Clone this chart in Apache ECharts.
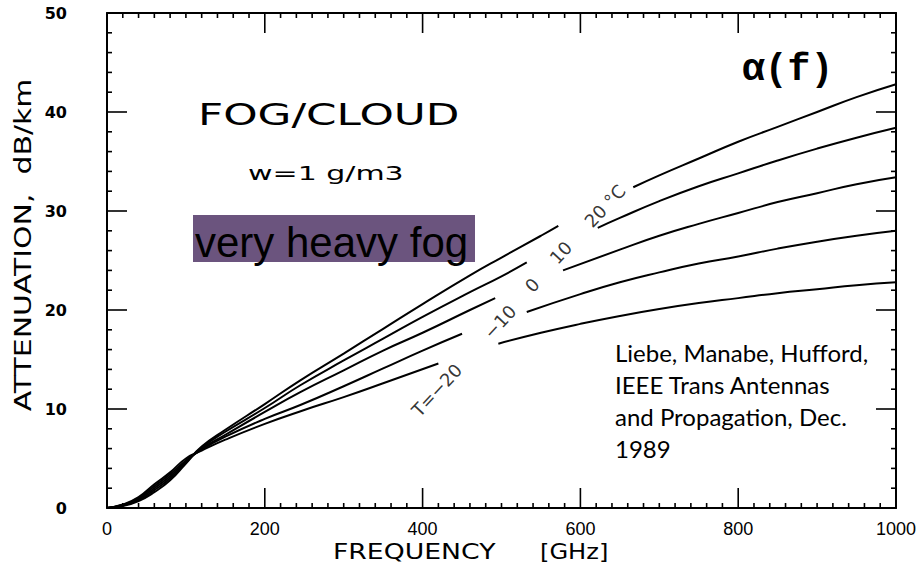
<!DOCTYPE html>
<html>
<head>
<meta charset="utf-8">
<script src="https://cdn.jsdelivr.net/npm/echarts@6/dist/echarts.min.js"></script>
<style>
  html, body { margin: 0; padding: 0; background: #fff; }
  #chart { width: 922px; height: 568px; }
</style>
</head>
<body>
<div id="chart"></div>
<script>
// Axis ticks: frequency in GHz, attenuation in dB/km
const freqTicks = [0, 200, 400, 600, 800, 1000];
const attTicks = [0, 10, 20, 30, 40, 50];

// Fog/cloud attenuation alpha(f), liquid water w = 1 g/m3.
// [frequency GHz, attenuation dB/km]; null leaves the gap where the curve's temperature is written.
const curveT20 = [[0,0],[20,0.2],[40,0.7],[60,1.6],[80,2.8],[100,4.5],[120,6.2],[150,7.9],[200,10.5],[245,12.9],[300,15.6],[350,18.1],[400,20.6],[460,23.5],[500,25.3],[550,27.5],[572,28.5],
  null,[667,32.4],[700,33.6],[750,35.3],[800,37.0],[850,38.5],[900,40.0],[950,41.5],[1000,42.8]];
const curveT10 = [[0,0],[20,0.25],[40,0.8],[60,1.8],[80,3.0],[100,4.6],[120,6.1],[150,7.7],[200,10.1],[245,12.4],[300,14.9],[350,17.1],[400,19.3],[460,21.8],[500,23.4],[532,24.8],
  null,[622,28.3],[650,29.3],[700,31.0],[750,32.5],[800,33.8],[850,35.1],[900,36.3],[950,37.4],[1000,38.4]];
const curveT0 = [[0,0],[20,0.3],[40,0.9],[60,2.0],[80,3.2],[100,4.7],[120,6.0],[150,7.4],[200,9.7],[245,11.7],[300,13.9],[350,15.9],[400,17.7],[460,20.0],[492,21.2],
  null,[578,24.0],[650,26.1],[700,27.5],[750,28.7],[800,29.8],[850,30.9],[900,31.8],[950,32.7],[1000,33.4]];
const curveTm10 = [[0,0],[20,0.3],[40,1.0],[60,2.2],[80,3.4],[100,4.8],[120,5.9],[150,7.2],[200,9.0],[245,10.4],[300,12.3],[350,14.1],[400,15.9],[450,17.6],
  null,[532,19.8],[600,21.6],[650,22.8],[700,23.8],[750,24.7],[800,25.4],[850,26.2],[900,26.9],[950,27.5],[1000,28.0]];
const curveTm20 = [[0,0],[20,0.35],[40,1.1],[60,2.4],[80,3.6],[100,5.0],[120,5.8],[150,6.9],[200,8.5],[250,9.9],[300,11.2],[350,12.6],[420,14.6],
  null,[496,16.6],[550,17.7],[600,18.6],[650,19.4],[700,20.1],[750,20.7],[800,21.2],[850,21.7],[900,22.1],[950,22.5],[1000,22.8]];

// Temperature of each curve, written along a diagonal through the curve gaps
const tempLabels = ['20 °C', '10', '0', '\u221210', 'T=\u221220'];
const tempLabelAnchors = [[631, 30.5], [575, 25.8], [539, 22.5], [498, 18.8], [418, 11.9]];

const curves = [curveT20, curveT10, curveT0, curveTm10, curveTm20];

const plotFont = '"DejaVu Sans", sans-serif';
const ink = '#000';

const xMin = freqTicks[0], xMax = freqTicks[freqTicks.length - 1];
const yMin = attTicks[0], yMax = attTicks[attTicks.length - 1];
const xStep = freqTicks[1] - freqTicks[0];
const yStep = attTicks[1] - attTicks[0];

const GRID = { left: 107, right: 26, top: 13, bottom: 60 };

function frameAxis(position, showLabels) {
  const isX = position === 'bottom' || position === 'top';
  return {
    type: 'value',
    position: position,
    min: isX ? xMin : yMin,
    max: isX ? xMax : yMax,
    interval: isX ? xStep : yStep,
    axisLine: { show: true, onZero: false, lineStyle: { color: ink, width: 2 } },
    axisTick: { show: false },
    minorTick: { show: false },
    splitLine: { show: false },
    axisLabel: showLabels ? (isX
      ? { show: true, margin: 12, color: ink, fontSize: 18, fontFamily: '"Liberation Sans", sans-serif', formatter: v => String(v) }
      : { show: true, margin: 40, color: ink, fontSize: 16, fontWeight: 'bold', fontFamily: plotFont, formatter: v => String(v) })
      : { show: false }
  };
}

const lineSeries = curves.map((c, i) => ({
  type: 'line',
  name: tempLabels[i],
  data: c,
  showSymbol: false,
  smooth: true,
  connectNulls: false,
  lineStyle: { color: ink, width: 2 },
  silent: true
}));

const labelSeries = {
  type: 'scatter',
  symbolSize: 0,
  silent: true,
  itemStyle: { color: '#000' },
  data: tempLabelAnchors.map((p, i) => ({ value: p, name: tempLabels[i] })),
  label: {
    show: true,
    position: [0, 0],
    align: 'center',
    verticalAlign: 'middle',
    formatter: p => p.name,
    rotate: 47,
    color: '#000',
    textBorderWidth: 0,
    fontSize: 18,
    fontFamily: plotFont
  }
};

// Titles, notes and axis names
const annotations = [
  { type: 'text', x: 198, y: 114, scaleX: 1.41,
    style: { text: 'FOG/CLOUD', fill: ink, fontSize: 31, fontFamily: plotFont, verticalAlign: 'middle' } },
  { type: 'text', x: 248, y: 173, scaleX: 1.5,
    style: { text: 'w=1 g/m3', fill: ink, fontSize: 20, fontFamily: plotFont, verticalAlign: 'middle' } },
  { type: 'rect', shape: { x: 193, y: 215, width: 282, height: 47 }, style: { fill: '#6b547e' } },
  { type: 'text', x: 195, y: 242,
    style: { text: 'very heavy fog', fill: '#000', fontSize: 42, fontFamily: '"Liberation Sans", Arial, sans-serif', verticalAlign: 'middle' } },
  { type: 'text', x: 742, y: 69,
    style: { text: '\u03b1(f)', fill: ink, fontSize: 38, fontWeight: 'bold', fontFamily: '"Liberation Mono", "Courier New", monospace', verticalAlign: 'middle' } },
  { type: 'text', x: 615, y: 336,
    style: { text: 'Liebe, Manabe, Hufford,\nIEEE Trans Antennas\nand Propagation, Dec.\n1989', fill: '#000', fontSize: 24, lineHeight: 32, fontFamily: 'Lato, sans-serif', verticalAlign: 'top' } },
  { type: 'text', x: 23, y: 245, rotation: Math.PI / 2, scaleX: 1.3,
    style: { text: 'ATTENUATION,  dB/km', fill: ink, fontSize: 23, fontFamily: plotFont, align: 'center', verticalAlign: 'middle' } },
  { type: 'text', x: 333, y: 552, scaleX: 1.27,
    style: { text: 'FREQUENCY', fill: ink, fontSize: 21, fontFamily: plotFont, verticalAlign: 'middle' } },
  { type: 'text', x: 540, y: 552, scaleX: 1.15,
    style: { text: '[GHz]', fill: ink, fontSize: 21, fontFamily: plotFont, verticalAlign: 'middle' } }
];

const chart = echarts.init(document.getElementById('chart'), null, { renderer: 'svg' });

chart.setOption({
  animation: false,
  backgroundColor: '#fff',
  grid: GRID,
  xAxis: [frameAxis('bottom', true), frameAxis('top', false)],
  yAxis: [frameAxis('left', true), frameAxis('right', false)],
  series: lineSeries.concat([labelSeries]),
  graphic: annotations
});

// Frame ticks on all four sides, pointing into the plot, placed at axis
// values through the grid's coordinate conversion.
const MAJOR_LEN = 20, MINOR_LEN = 5, TICK_W = 1.6;
const toPx = (x, y) => chart.convertToPixel({ gridIndex: 0 }, [x, y]);
const tickMarks = [];
function bar(x, y, w, h) {
  tickMarks.push({ type: 'rect', silent: true, z: 50, shape: { x: x, y: y, width: w, height: h }, style: { fill: ink } });
}
for (let i = 0; i <= 50; i++) {
  const v = xMin + i * xStep / 10;
  const len = i % 10 === 0 ? MAJOR_LEN : MINOR_LEN;
  const b = toPx(v, yMin), t = toPx(v, yMax);
  bar(b[0] - TICK_W / 2, b[1] - len, TICK_W, len);
  bar(t[0] - TICK_W / 2, t[1], TICK_W, len);
}
for (let i = 0; i <= 25; i++) {
  const v = yMin + i * yStep / 5;
  const len = i % 5 === 0 ? MAJOR_LEN : MINOR_LEN;
  const l = toPx(xMin, v), r = toPx(xMax, v);
  bar(l[0], l[1] - TICK_W / 2, len, TICK_W);
  bar(r[0] - len, r[1] - TICK_W / 2, len, TICK_W);
}

chart.setOption({ graphic: annotations.concat(tickMarks) });
</script>
</body>
</html>
